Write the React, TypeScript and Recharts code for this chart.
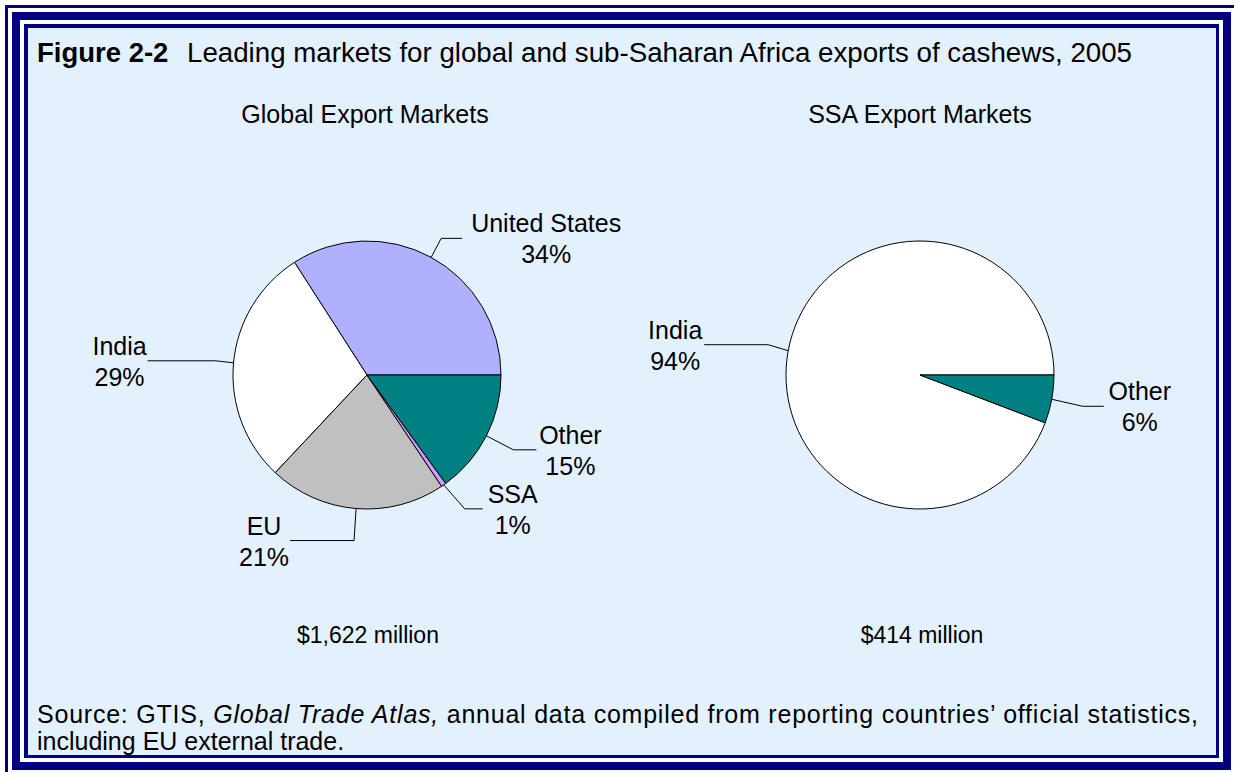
import { Cell, Pie, PieChart } from "recharts";

// Leading markets for cashew exports, 2005 (shares in %)
const globalMarkets = ["United States", "India", "EU", "SSA", "Other"];
const globalShares = [34.1, 28.9, 21.4, 0.6, 15.0];
const globalColors = ["#B0B0FF", "#FFFFFF", "#C0C0C0", "#CC99FF", "#008080"];

const ssaMarkets = ["India", "Other"];
const ssaShares = [94.2, 5.8];
const ssaColors = ["#FFFFFF", "#008080"];

const globalData = globalMarkets.map((name, i) => ({ name, value: globalShares[i] }));
const ssaData = ssaMarkets.map((name, i) => ({ name, value: ssaShares[i] }));

const NAVY = "#000080";
const PANEL = "#E3F1FE";
const FONT = "'Liberation Sans', Arial, sans-serif";

// leader line routing: elbow offset from slice edge, horizontal run, text centre offset from line end
type LabelLayout = { elbow: [number, number]; run: number; textDx: number };

const globalLabelLayout: Record<string, LabelLayout> = {
  "United States": { elbow: [10, -19], run: 21, textDx: 84 },
  India: { elbow: [-18, -2], run: -68, textDx: -28 },
  EU: { elbow: [-2, 32], run: -64, textDx: -26 },
  SSA: { elbow: [21, 24], run: 18, textDx: 30 },
  Other: { elbow: [27, 14], run: 23, textDx: 34 },
};

const ssaLabelLayout: Record<string, LabelLayout> = {
  India: { elbow: [-20, -6], run: -64, textDx: -29 },
  Other: { elbow: [31, 7], run: 21, textDx: 36 },
};

const RAD = Math.PI / 180;

const makeLabel = (layout: Record<string, LabelLayout>) => (props: any) => {
  const { cx, cy, midAngle, outerRadius, value } = props;
  const name = props.payload?.name ?? props.name;
  const l = layout[name];
  if (!l) return null;
  const px = cx + outerRadius * Math.cos(-midAngle * RAD);
  const py = cy + outerRadius * Math.sin(-midAngle * RAD);
  const ex = px + l.elbow[0];
  const ey = py + l.elbow[1];
  const endX = ex + l.run;
  const tx = endX + l.textDx;
  return (
    <g>
      <polyline
        points={`${px},${py} ${ex},${ey} ${endX},${ey}`}
        fill="none"
        stroke="#000"
        strokeWidth={1}
      />
      <text x={tx} y={ey - 6} textAnchor="middle" fontFamily={FONT} fontSize={25} fill="#000">
        {name}
      </text>
      <text x={tx} y={ey + 25} textAnchor="middle" fontFamily={FONT} fontSize={25} fill="#000">
        {`${Math.round(value)}%`}
      </text>
    </g>
  );
};

const box = (left: number, top: number, width: number, height: number, bg: string) => (
  <div style={{ position: "absolute", left, top, width, height, background: bg }} />
);

export default function App() {
  return (
    <div
      style={{
        position: "absolute",
        left: 0,
        top: 0,
        width: 1234,
        height: 772,
        overflow: "hidden",
        background: "#FFFFFF",
      }}
    >
      {/* triple frame */}
      {box(5, 5, 1234, 772, NAVY)}
      {box(8, 8, 1228, 766, "#FFFFFF")}
      {box(12, 12, 1219, 758, NAVY)}
      {box(20, 20, 1203, 742, "#FFFFFF")}
      {box(24, 24, 1195, 734, NAVY)}
      {box(28, 28, 1188, 727, PANEL)}

      <div style={{ position: "absolute", left: 0, top: 0 }}>
        <PieChart width={1234} height={772} margin={{ top: 0, right: 0, bottom: 0, left: 0 }}>
          <Pie
            data={globalData}
            dataKey="value"
            nameKey="name"
            cx={367}
            cy={375}
            outerRadius={134}
            startAngle={0}
            endAngle={360}
            stroke="#000"
            strokeWidth={1}
            label={makeLabel(globalLabelLayout)}
            labelLine={false}
            isAnimationActive={false}
          >
            {globalData.map((d, i) => (
              <Cell key={d.name} fill={globalColors[i]} />
            ))}
          </Pie>
          <Pie
            data={ssaData}
            dataKey="value"
            nameKey="name"
            cx={920}
            cy={375}
            outerRadius={134}
            startAngle={0}
            endAngle={360}
            stroke="#000"
            strokeWidth={1}
            label={makeLabel(ssaLabelLayout)}
            labelLine={false}
            isAnimationActive={false}
          >
            {ssaData.map((d, i) => (
              <Cell key={d.name} fill={ssaColors[i]} />
            ))}
          </Pie>
        </PieChart>
      </div>

      {/* static texts */}
      <svg
        width={1234}
        height={772}
        style={{ position: "absolute", left: 0, top: 0, pointerEvents: "none" }}
        fontFamily={FONT}
        fill="#000"
      >
        <text x={37} y={62} fontSize={27.5} fontWeight="bold">
          Figure 2-2
        </text>
        <text x={187} y={62} fontSize={27.7}>
          Leading markets for global and sub-Saharan Africa exports of cashews, 2005
        </text>

        <text x={365} y={123} fontSize={25} textAnchor="middle">
          Global Export Markets
        </text>
        <text x={920} y={123} fontSize={25} textAnchor="middle">
          SSA Export Markets
        </text>

        <text x={368} y={643} fontSize={23} textAnchor="middle">
          $1,622 million
        </text>
        <text x={922} y={643} fontSize={23} textAnchor="middle">
          $414 million
        </text>

        <text x={37} y={723} fontSize={25} textLength={1161} lengthAdjust="spacing">
          Source: GTIS, <tspan fontStyle="italic">Global Trade Atlas,</tspan> annual data compiled
          from reporting countries’ official statistics,
        </text>
        <text x={37} y={750} fontSize={25}>
          including EU external trade.
        </text>
      </svg>
    </div>
  );
}
